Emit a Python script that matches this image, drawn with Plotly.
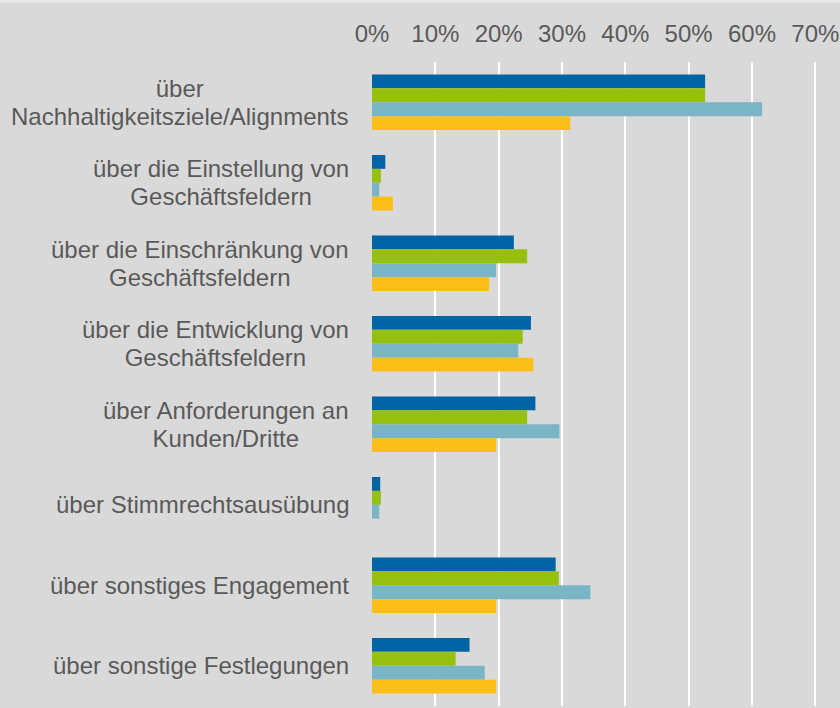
import plotly.graph_objects as go

categories = [
    "über<br>Nachhaltigkeitsziele/Alignments",
    "über die Einstellung von<br>Geschäftsfeldern",
    "über die Einschränkung von<br>Geschäftsfeldern",
    "über die Entwicklung von<br>Geschäftsfeldern",
    "über Anforderungen an<br>Kunden/Dritte",
    "über Stimmrechtsausübung",
    "über sonstiges Engagement",
    "über sonstige Festlegungen",
]

series_names = ["Serie 1", "Serie 2", "Serie 3", "Serie 4"]
series_1 = [0.526, 0.021, 0.224, 0.251, 0.258, 0.013, 0.290, 0.154]
series_2 = [0.526, 0.014, 0.245, 0.238, 0.245, 0.014, 0.295, 0.132]
series_3 = [0.616, 0.0115, 0.196, 0.231, 0.296, 0.0115, 0.345, 0.178]
series_4 = [0.313, 0.033, 0.185, 0.255, 0.196, 0.0, 0.196, 0.196]
series_values = [series_1, series_2, series_3, series_4]
colors = ["#0063A3", "#97BF0D", "#7AB5C5", "#FCBF19"]

tick_vals = [0, 0.1, 0.2, 0.3, 0.4, 0.5, 0.6, 0.7]
tick_text = ["0%", "10%", "20%", "30%", "40%", "50%", "60%", "70%"]

FONT = "Liberation Sans, Arial, sans-serif"
TXT = "#595959"

fig = go.Figure()
for name, vals, col in zip(series_names, series_values, colors):
    fig.add_trace(go.Bar(
        y=categories, x=vals, name=name, orientation="h",
        marker=dict(color=col, line=dict(width=0)),
        showlegend=False,
    ))

for c in categories:
    lines = c.split("<br>")
    txt = "<br>".join('<span style="font-size:24px">%s</span>' % ln for ln in lines)
    fig.add_annotation(
        x=0, xref="paper", y=c, yref="y", text=txt,
        xanchor="right", yanchor="middle", align="center",
        xshift=-21, showarrow=False,
        font=dict(family=FONT, size=21.5, color=TXT),
    )

fig.add_shape(type="line", xref="paper", yref="paper",
              x0=-1, x1=1, ysizemode="pixel", yanchor=1, y0=61, y1=61,
              line=dict(color="#EBEBEB", width=3))

fig.update_layout(
    width=840, height=708,
    margin=dict(l=372, r=0, t=62, b=2),
    paper_bgcolor="#D9D9D9", plot_bgcolor="#D9D9D9",
    barmode="group", bargap=0.31, bargroupgap=0,
    font=dict(family=FONT, size=24, color=TXT),
    xaxis=dict(
        side="top", range=[0, 0.739], tickvals=tick_vals, ticktext=tick_text,
        showgrid=True, gridcolor="#FFFFFF", gridwidth=2,
        zeroline=False, showline=False, ticks="",
        ticklabelstandoff=14,
        tickfont=dict(family=FONT, size=24, color=TXT),
    ),
    yaxis=dict(
        autorange="reversed", showticklabels=False, showgrid=False,
        zeroline=False, showline=False, ticks="",
    ),
)

fig.write_html(
    "out.html",
    config={"displayModeBar": False},
    post_script="document.body.style.margin='0';document.body.style.padding='0';document.body.style.overflow='hidden';",
)
